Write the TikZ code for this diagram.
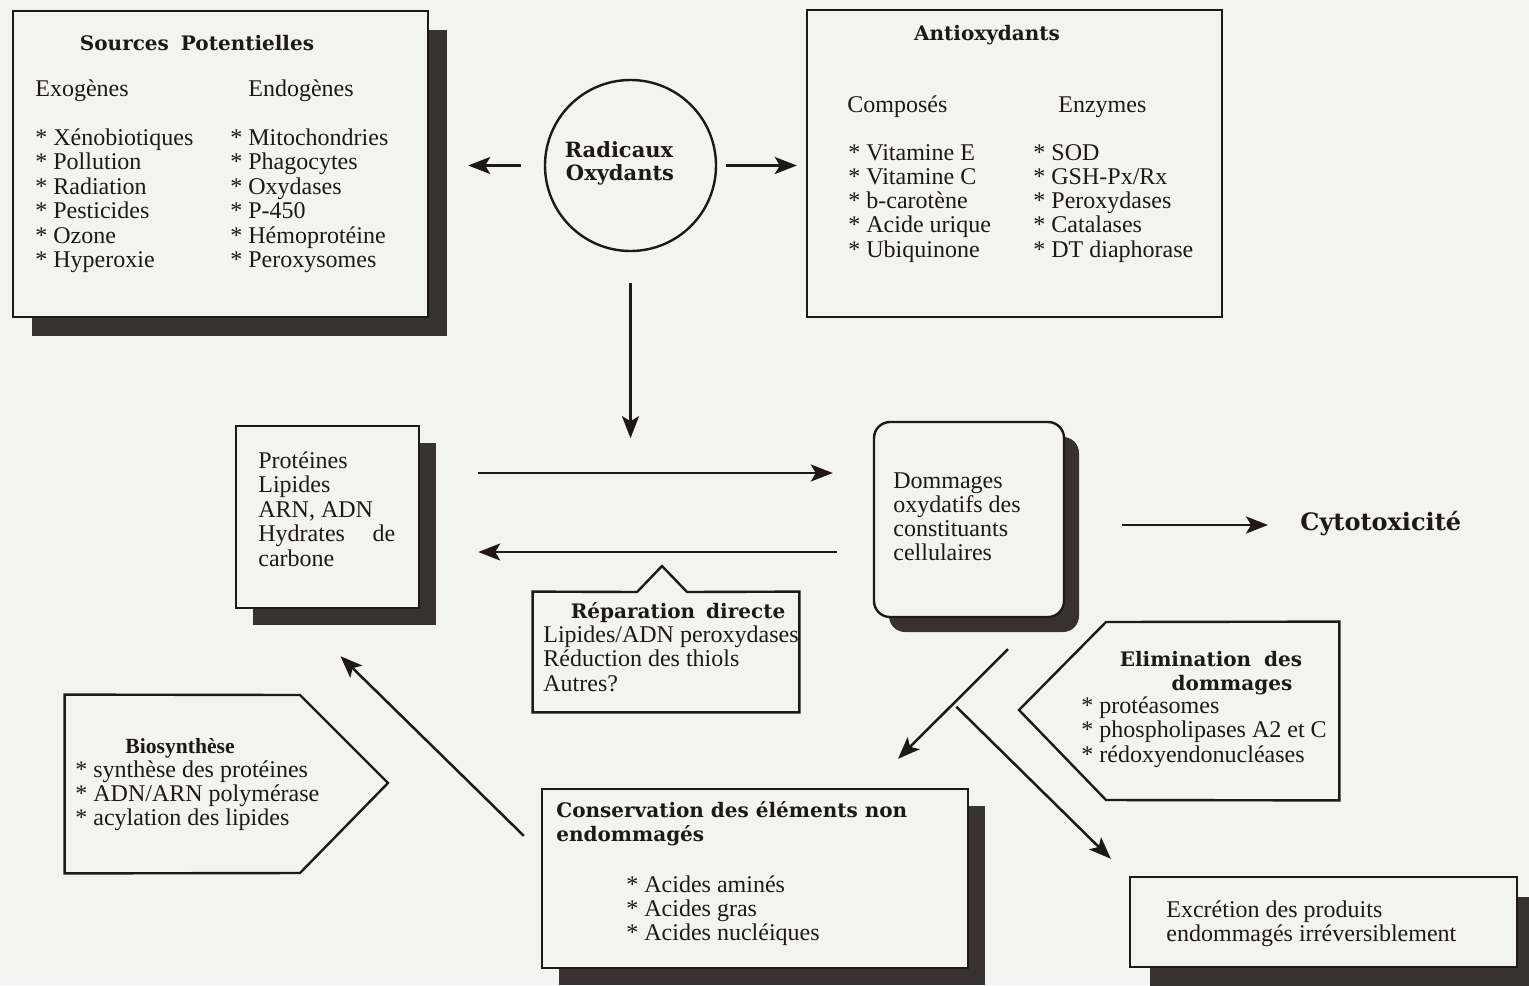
\documentclass[tikz,border=0pt]{standalone}
\usepackage{fontspec}
\setmainfont{Liberation Serif}
\newfontfamily\tfont{DejaVu Serif}
\usetikzlibrary{arrows.meta,fit,shadows,calc}
\definecolor{bg}{RGB}{243,243,241}
\definecolor{ink}{RGB}{30,24,24}
\definecolor{shd}{RGB}{55,49,49}
\begin{document}
\begin{tikzpicture}[x=0.5pt,y=-0.5pt,
  box/.style={draw=ink, line width=1.2pt, fill=bg, inner sep=0pt},
  shad/.style={drop shadow={shadow xshift=#1, shadow yshift=-#1, fill=shd, opacity=1}},
  body/.style={font=\fontsize{12}{12.25}\selectfont, text=ink, inner sep=0pt, anchor=base west},
  ttl/.style={font=\tfont\bfseries\fontsize{10}{12}\selectfont, text=ink, inner sep=0pt},
  arr/.style={draw=ink, line width=1.25pt, -{Stealth[length=11pt,width=8.5pt,inset=2.5pt]}},
  outl/.style={draw=ink, line width=1.2pt, fill=bg},
]
\useasboundingbox (0,0) rectangle (1529,985);
\fill[bg] (0,0) rectangle (1529,985);

% ---------- Sources potentielles ----------
\node[box, shad=9.5pt, fit={(13,11)(428,317)}] (src) {};
\node[ttl, anchor=base] (srct) at (197,50) {Sources\hspace{0.6em}Potentielles};
\node[body] (exo) at (35,96) {Exogènes};
\node[body] (endo) at (248,96) {Endogènes};
\foreach \t [count=\i] in {Xénobiotiques,Pollution,Radiation,Pesticides,Ozone,Hyperoxie}
  \node[body] (sx\i) at (35,{145+24.5*(\i-1)}) {* \t};
\foreach \t [count=\i] in {Mitochondries,Phagocytes,Oxydases,P-450,Hémoprotéine,Peroxysomes}
  \node[body] (sn\i) at (230,{145+24.5*(\i-1)}) {* \t};

% ---------- Radicaux oxydants ----------
\node[draw=ink, line width=1.2pt, circle, fill=bg, minimum size=85.5pt, inner sep=0pt] (rad) at (630.5,165.5) {};
\node[ttl, font=\tfont\bfseries\fontsize{10.5}{12}\selectfont, anchor=base] (rad1) at (619,157) {Radicaux};
\node[ttl, font=\tfont\bfseries\fontsize{10.5}{12}\selectfont, anchor=base] (rad2) at (620,180) {Oxydants};

% ---------- Antioxydants ----------
\node[box, fit={(807,10)(1222,317)}] (anti) {};
\node[ttl, anchor=base] (antit) at (987,40) {Antioxydants};
\node[body] (comp) at (847,112) {Composés};
\node[body] (enz) at (1058,112) {Enzymes};
\foreach \t [count=\i] in {Vitamine E,Vitamine C,b-carotène,Acide urique,Ubiquinone}
  \node[body] (ac\i) at (848,{160+24.3*(\i-1)}) {* \t};
\foreach \t [count=\i] in {SOD,GSH-Px/Rx,Peroxydases,Catalases,DT diaphorase}
  \node[body] (ae\i) at (1033,{160+24.3*(\i-1)}) {* \t};

% ---------- Protéines ----------
\node[box, shad=8.25pt, fit={(236,426)(419,608)}] (prot) {};
\foreach \t [count=\i] in {Protéines,Lipides,{ARN, ADN},{\makebox[68.5pt][s]{Hydrates de}},carbone}
  \node[body] (pl\i) at (258,{468+24.5*(\i-1)}) {\t};

% ---------- Dommages ----------
\node[box, rounded corners=8pt, shad=7.5pt, fit={(874,422)(1064,617)}] (dom) {};
\foreach \t [count=\i] in {Dommages,oxydatifs des,constituants,cellulaires}
  \node[body] (dl\i) at (893,{488+24.3*(\i-1)}) {\t};

% ---------- Cytotoxicité ----------
\node[ttl, font=\tfont\bfseries\fontsize{12}{14}\selectfont, anchor=base west] (cyto) at (1300,530) {Cytotoxicité};

% ---------- Réparation directe ----------
\node[fit={(533,592)(799,712)}, inner sep=0pt] (rep) {};
\draw[outl] (rep.north west) -- (637,592) -- (662,566) -- (687,592) -- (rep.north east)
  -- (rep.south east) -- (rep.south west) -- cycle;
\node[ttl, anchor=base] (rept) at (678,618) {Réparation\hspace{0.2em} directe};
\foreach \t [count=\i] in {Lipides/ADN peroxydases,Réduction des thiols,Autres?}
  \node[body] (rl\i) at (543,{642+24.5*(\i-1)}) {\t};

% ---------- Elimination ----------
\node[fit={(1019,622)(1339,800)}, inner sep=0pt] (elim) {};
\draw[outl] (1019,710) -- (1106,622) -- (elim.north east) -- (elim.south east) -- (1106,800) -- cycle;
\node[ttl, anchor=base] (elt1) at (1211,666) {Elimination\hspace{0.3em} des};
\node[ttl, anchor=base] (elt2) at (1232,690) {dommages};
\foreach \t [count=\i] in {protéasomes,phospholipases A2 et C,rédoxyendonucléases}
  \node[body] (el\i) at (1081,{713+24.5*(\i-1)}) {* \t};

% ---------- Biosynthèse ----------
\node[fit={(65,695)(388,873)}, inner sep=0pt] (bio) {};
\draw[outl] (bio.north west) -- (300,695) -- (388,783) -- (300,873) -- (bio.south west) -- cycle;
\node[ttl, font=\bfseries\fontsize{10.8}{12}\selectfont, anchor=base] (biot) at (180,753) {Biosynthèse};
\foreach \t [count=\i] in {synthèse des protéines,ADN/ARN polymérase,acylation des lipides}
  \node[body] (bl\i) at (75,{777+24*(\i-1)}) {* \t};

% ---------- Conservation ----------
\node[box, shad=8.5pt, fit={(542,789)(968,968)}] (cons) {};
\node[ttl, anchor=base west] (ct1) at (556,817) {Conservation des éléments non};
\node[ttl, anchor=base west] (ct2) at (556,841) {endommagés};
\foreach \t [count=\i] in {Acides aminés,Acides gras,Acides nucléiques}
  \node[body] (cl\i) at (626,{892+24.3*(\i-1)}) {* \t};

% ---------- Excrétion ----------
\node[box, shad=10pt, fit={(1130,877)(1517,967)}] (excr) {};
\node[body] (ex1) at (1166,917) {Excrétion des produits};
\node[body] (ex2) at (1166,941) {endommagés irréversiblement};

% ---------- Connectors ----------
\draw[arr, shorten <=11.5pt, shorten >=19.5pt] (rad.west) -- (src.east |- rad.west);
\draw[arr, shorten <=4.5pt, shorten >=4.5pt] (rad.east) -- (anti.west |- rad.east);
\coordinate (hit) at ($(rad.south)+(0,186)$);
\draw[arr, shorten <=15.5pt] (rad.south) -- (hit);
\draw[arr, shorten <=29pt, shorten >=20pt] (prot.east |- 0,473) -- (dom.west |- 0,473);
\draw[arr, shorten <=18pt, shorten >=29pt] (dom.west |- 0,552) -- (prot.east |- 0,552);
\draw[arr, shorten <=28.5pt, shorten >=16pt] (dom.east |- 0,525) -- (cyto.west |- 0,525);
\coordinate (d1) at ($(dom.south)+(39,31)$);
\coordinate (d2) at ($(cons.north)+(143,-29)$);
\draw[arr] (d1) -- (d2);
\coordinate (br) at ($(d1)!0.47!(d2)+(0,6)$);
\draw[arr] (br) -- ($(excr.north west)+(-18,-17)$);
\draw[arr] ($(cons.north west)+(-17,48)$) -- ($(prot.south)+(13,47)$);
\end{tikzpicture}
\end{document}
